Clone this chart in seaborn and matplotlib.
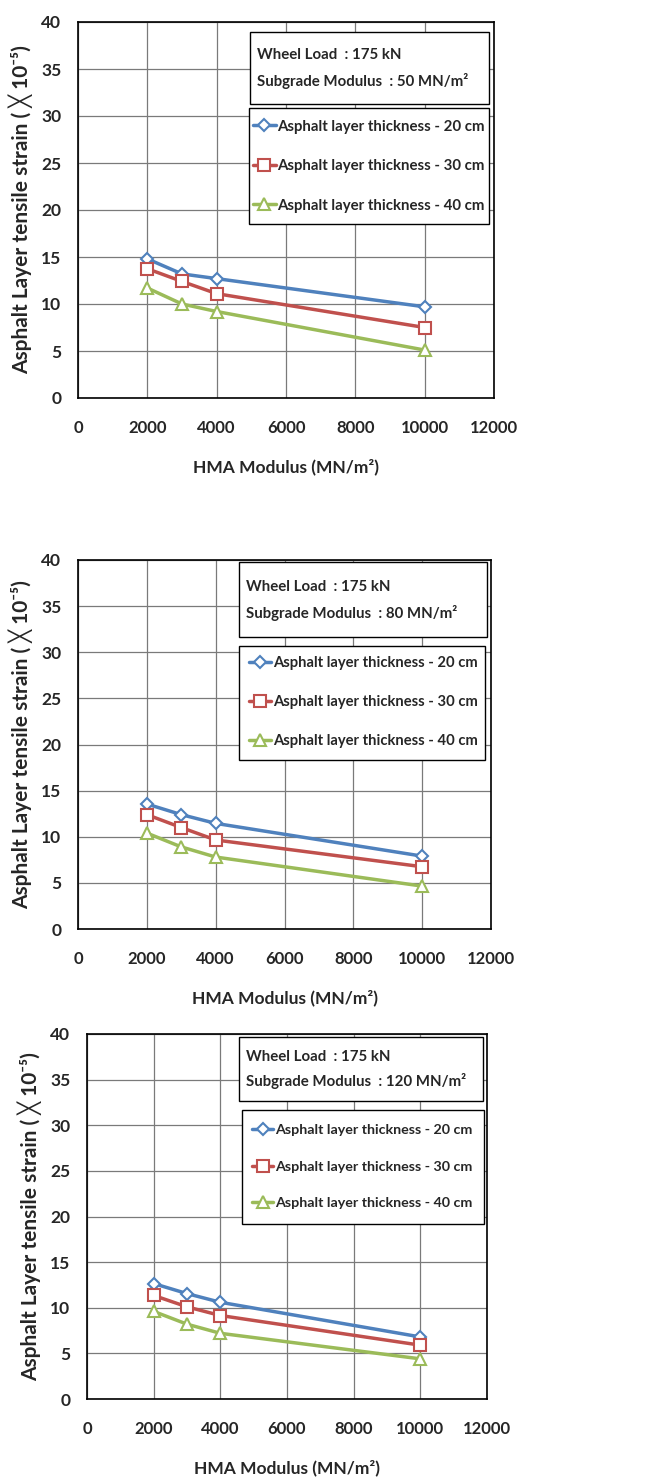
import matplotlib
matplotlib.use("Agg")
import matplotlib.pyplot as plt
import seaborn as sns
import pandas as pd
from matplotlib.patches import Rectangle

sns.set_theme(style="white")
plt.rcParams['font.family'] = ['Lato', 'DejaVu Sans']

# ---------------- data ----------------
hma_modulus = [2000, 3000, 4000, 10000]
thickness_labels = ["Asphalt layer thickness - 20 cm",
                    "Asphalt layer thickness - 30 cm",
                    "Asphalt layer thickness - 40 cm"]
subgrade_labels = ["50", "80", "120"]

# panel 1: subgrade 50 MN/m2
p1_t20 = [14.8, 13.2, 12.7, 9.7]
p1_t30 = [13.75, 12.4, 11.1, 7.5]
p1_t40 = [11.7, 10.0, 9.2, 5.1]
# panel 2: subgrade 80 MN/m2
p2_t20 = [13.55, 12.4, 11.45, 7.9]
p2_t30 = [12.4, 11.0, 9.65, 6.75]
p2_t40 = [10.4, 8.9, 7.8, 4.65]
# panel 3: subgrade 120 MN/m2
p3_t20 = [12.65, 11.55, 10.6, 6.8]
p3_t30 = [11.35, 10.1, 9.15, 5.9]
p3_t40 = [9.6, 8.2, 7.2, 4.4]

x_ticks = [0, 2000, 4000, 6000, 8000, 10000, 12000]
y_ticks = [0, 5, 10, 15, 20, 25, 30, 35, 40]

panels = [(p1_t20, p1_t30, p1_t40), (p2_t20, p2_t30, p2_t40), (p3_t20, p3_t30, p3_t40)]

colors = ["#4F81BD", "#C0504D", "#9BBB59"]
markers = ["D", "s", "^"]
msizes = [6.5, 8.5, 8.5]

W, H = 663, 1482
fig = plt.figure(figsize=(W / 100, H / 100), dpi=100)
fig.patch.set_facecolor("white")

# axes boxes in pixels: left, right, top, bottom
boxes = [(78, 494, 22, 398), (78, 491, 560, 929), (87, 487, 1034, 1399)]
# info box (x0, x1, ytop, ybot), text x, line y's  (axes fraction)
tboxes = [(0.413, 0.988, 0.973, 0.782), (0.390, 0.990, 0.995, 0.790), (0.380, 0.991, 0.992, 0.817)]
tpos = [(0.430, 0.912, 0.843), (0.407, 0.926, 0.857), (0.3975, 0.937, 0.870)]
# legend frame (x0, x1, ytop, ybot), legend anchor (x, ycenter), legend font size
lboxes = [(0.411, 0.988, 0.771, 0.463), (0.390, 0.985, 0.768, 0.458), (0.387, 0.993, 0.7905, 0.4798)]
legpos = [(0.421, 0.6165), (0.415, 0.614), (0.412, 0.6367)]
legfs = [10.8, 10.6, 10.3]

for i, series in enumerate(panels):
    l, r, t, b = boxes[i]
    ax = fig.add_axes([l / W, 1 - b / H, (r - l) / W, (b - t) / H])
    for j, vals in enumerate(series):
        df = pd.DataFrame({"HMA": hma_modulus, "strain": vals})
        sns.lineplot(data=df, x="HMA", y="strain", ax=ax, color=colors[j],
                     marker=markers[j], markersize=msizes[j], markerfacecolor="white",
                     markeredgecolor=colors[j], markeredgewidth=1.5, linewidth=2.5,
                     label=thickness_labels[j], zorder=3)
    ax.set_xlim(0, 12000)
    ax.set_ylim(0, 40)
    ax.set_xticks(x_ticks)
    ax.set_yticks(y_ticks)
    ax.set_xticklabels([str(v) for v in x_ticks], fontsize=12, fontweight="bold")
    ax.set_yticklabels([str(v) for v in y_ticks], fontsize=12.5, fontweight="bold")
    ax.tick_params(axis="x", length=0, pad=16)
    ax.tick_params(axis="y", length=0, pad=12)
    ax.grid(True, color="#7a7a7a", linewidth=0.9)
    ax.set_axisbelow(True)
    for s in ax.spines.values():
        s.set_color("black")
        s.set_linewidth(1.2)
    ax.set_xlabel("HMA Modulus (MN/m²)", fontsize=12.5, fontweight="bold", labelpad=16)
    ax.set_ylabel("Asphalt Layer tensile strain ( ╳ 10⁻⁵)", fontsize=15,
                  fontweight="bold", labelpad=6)

    # info text box
    x0, x1, yt, yb = tboxes[i]
    ax.add_patch(Rectangle((x0, yb), x1 - x0, yt - yb, transform=ax.transAxes,
                           facecolor="white", edgecolor="black", linewidth=1.0, zorder=5))
    tx, ty1, ty2 = tpos[i]
    ax.text(tx, ty1, "Wheel Load  : 175 kN", transform=ax.transAxes,
            fontsize=10.8, fontweight="bold", va="center", zorder=6)
    ax.text(tx, ty2, "Subgrade Modulus  : " + subgrade_labels[i] + " MN/m²",
            transform=ax.transAxes, fontsize=10.8, fontweight="bold", va="center", zorder=6)

    # legend frame + frameless legend
    x0, x1, yt, yb = lboxes[i]
    ax.add_patch(Rectangle((x0, yb), x1 - x0, yt - yb, transform=ax.transAxes,
                           facecolor="white", edgecolor="black", linewidth=1.0, zorder=5))
    lx, ly = legpos[i]
    leg = ax.legend(loc="center left", bbox_to_anchor=(lx, ly), frameon=False,
                    prop={"size": legfs[i], "weight": "bold"},
                    handlelength=1.5, handletextpad=0.1, labelspacing=1.7,
                    borderpad=0, borderaxespad=0)
    leg.set_zorder(6)

fig.savefig("out.png", dpi=100, facecolor="white")
